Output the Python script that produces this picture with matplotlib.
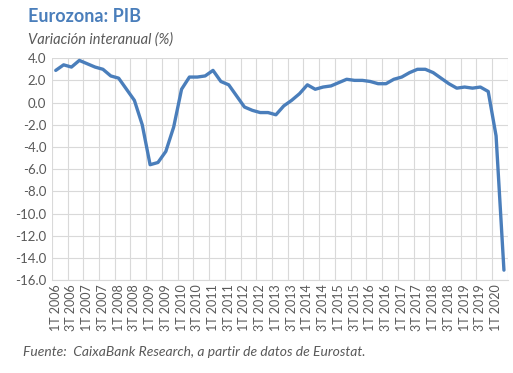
import numpy as np
import matplotlib.pyplot as plt

# PIB eurozona, variación interanual (%), 1T 2006 - 2T 2020
years = list(range(2006, 2021))
quarters = [f"{q}T {y}" for y in years for q in (1, 2, 3, 4)][:58]
pib = [2.9, 3.4, 3.2, 3.8, 3.5, 3.2, 3.0, 2.4, 2.2, 1.2,
       0.2, -2.0, -5.6, -5.4, -4.4, -2.2, 1.2, 2.3, 2.3, 2.4,
       2.9, 1.9, 1.6, 0.6, -0.4, -0.7, -0.9, -0.9, -1.1, -0.3,
       0.2, 0.8, 1.6, 1.2, 1.4, 1.5, 1.8, 2.1, 2.0, 2.0,
       1.9, 1.7, 1.7, 2.1, 2.3, 2.7, 3.0, 3.0, 2.7, 2.2,
       1.7, 1.3, 1.4, 1.3, 1.4, 1.0, -3.0, -15.1]

blue = '#4a7ebb'
grey = '#595959'
grid = '#d9d9d9'

plt.rcParams['font.family'] = ['Lato', 'DejaVu Sans']

fig = plt.figure(figsize=(5.13, 3.73), dpi=100)
ax = fig.add_axes([0.101, 0.249, 0.889, 0.595])

x = np.arange(len(pib))
ax.plot(x, pib, color=blue, lw=2.4, solid_capstyle='round', solid_joinstyle='round', zorder=3)

ax.set_xlim(-0.5, len(pib) - 0.5)
ax.set_ylim(-16, 4)
ax.set_yticks(np.arange(-16, 4.1, 2))
ax.set_yticklabels([f"{v:.1f}" for v in np.arange(-16, 4.1, 2)])

ax.set_xticks(x[::2])
ax.set_xticklabels(quarters[::2], rotation=90)
ax.set_xticks(np.arange(-0.5, len(pib), 2), minor=True)

ax.grid(axis='y', color=grid, lw=0.8)
ax.grid(axis='x', which='minor', color=grid, lw=0.8)
ax.set_axisbelow(True)
for s in ['top', 'right', 'left']:
    ax.spines[s].set_visible(False)
ax.spines['bottom'].set_color(grid)
ax.tick_params(axis='both', which='both', length=0, colors=grey, labelsize=9.5)
ax.tick_params(axis='x', pad=3, labelsize=9)
ax.tick_params(axis='y', pad=4)

fig.text(0.055, 0.955, 'Eurozona: PIB', color=blue, fontsize=13, fontweight='bold', va='center')
fig.text(0.055, 0.893, 'Variación interanual (%)', color=grey, fontsize=10.5, style='italic', va='center')
fig.text(0.045, 0.055, 'Fuente:  CaixaBank Research, a partir de datos de Eurostat.', color=grey,
         fontsize=10, style='italic', va='center')

fig.savefig('out.png', dpi=100)
